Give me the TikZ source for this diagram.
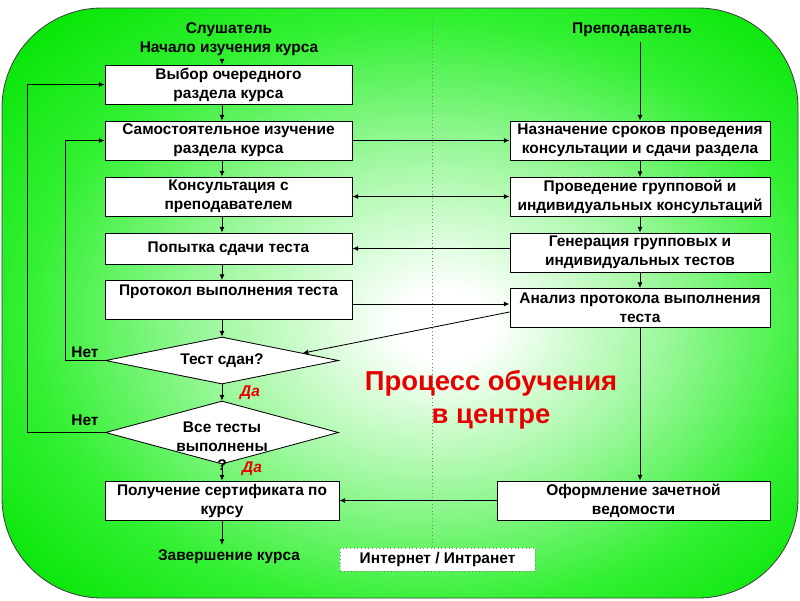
\documentclass[tikz,border=0pt]{standalone}
\usepackage{fontspec}
\setmainfont{Liberation Sans}
\usetikzlibrary{shapes.geometric,arrows.meta,calc}
\definecolor{bggreen}{RGB}{0,228,0}
\definecolor{midgreen}{RGB}{50,240,50}
\definecolor{palegreen}{RGB}{160,248,160}
\definecolor{titlered}{RGB}{230,0,0}
\pgfdeclareradialshading{bgshade}{\pgfpoint{3bp}{-2bp}}{color(0bp)=(white); color(3bp)=(white); color(14bp)=(palegreen); color(25bp)=(midgreen); color(35bp)=(bggreen); color(50bp)=(bggreen)}

\begin{document}
\begin{tikzpicture}[x=0.025cm, y=-0.025cm, line width=0.6pt,
    >={Latex[length=4pt,width=3.5pt]},
    txt/.style={font=\bfseries\fontsize{11}{13.5}\selectfont, align=center},
    box/.style={txt, draw, fill=white, inner sep=1pt},
    lbox/.style={box, minimum width=6.175cm, minimum height=0.975cm},
    rbox/.style={box, minimum width=6.5cm, minimum height=0.975cm},
    decision/.style={diamond, draw, fill=white, inner sep=0pt, minimum width=5.825cm},
    yes/.style={font=\bfseries\itshape\fontsize{11}{13}\selectfont, text=titlered}]

    % Background
    \useasboundingbox (0,0) rectangle (800,600);
    \shade[shading=bgshade, rounded corners=2.5cm] (2,8) rectangle (798,598);
    \draw[black!75, rounded corners=2.5cm] (2,8) rectangle (798,598);
    \draw[gray, dotted, line width=0.5pt] (432,22) -- (432,548);

    % Student column
    \node[txt] (student) at (229,39) {Слушатель\\Начало изучения курса};
    \coordinate (lx) at (222,0);
    \node[lbox] (b1) at (228.5,84.5) {Выбор очередного\\раздела курса};
    \node[lbox] (b2) at (228.5,140.5) {Самостоятельное изучение\\раздела курса};
    \node[lbox] (b3) at (228.5,196.5) {Консультация с\\преподавателем};
    \node[lbox, minimum height=0.775cm] (b4) at (228.5,248.5) {Попытка сдачи теста};
    \node[lbox] (b5) at (228.5,300) {Протокол выполнения теста\\ \mbox{}};
    \node[decision, minimum height=1.175cm] (d1) at (222,360.5) {};
    \node[txt] (d1t) at (222,361) {Тест сдан?};
    \node[decision, minimum height=1.575cm] (d2) at (222,432.5) {};
    \node[txt] (d2t) at (222,446) {Все тесты\\выполнены\\?};
    \node[box, minimum width=5.85cm, minimum height=0.975cm] (b6) at (222,500.5) {Получение сертификата по\\курсу};
    \node[txt] (finish) at (229,557) {Завершение курса};
    \node[txt] (no1) at (85,352) {Нет};
    \node[txt] (no2) at (85,420) {Нет};
    \node[yes] (yes1) at (250,393) {Да};
    \node[yes] (yes2) at (252,469) {Да};

    % Teacher column
    \node[txt] (teacher) at (632,30) {Преподаватель};
    \node[rbox] (r1) at (640,140.5) {Назначение сроков проведения\\консультации и сдачи раздела};
    \node[rbox] (r2) at (640,197) {Проведение групповой и\\индивидуальных консультаций};
    \node[rbox] (r3) at (640,252.5) {Генерация групповых и\\индивидуальных тестов};
    \node[rbox] (r4) at (640,308) {Анализ протокола выполнения\\теста};
    \node[box, minimum width=6.825cm, minimum height=0.975cm] (r5) at (633.5,500.5) {Оформление зачетной\\ведомости};

    % Title and footer
    \node[font=\bfseries\fontsize{19.5}{23.5}\selectfont, text=titlered, align=center] (title) at (491,400) {Процесс обучения\\в центре};
    \node[txt, draw=gray, dotted, fill=white, minimum width=4.875cm, minimum height=0.575cm, inner sep=1pt] (inet) at (437.5,559.5) {Интернет / Интранет};

    % Arrows
    \draw[->] (student.south -| lx) -- (b1.north -| lx);
    \foreach \a/\b in {b1/b2, b2/b3, b3/b4, b4/b5, b5/d1, d1/d2, d2/b6, b6/finish}
        \draw[->] (\a.south -| lx) -- (\b.north -| lx);
    \draw[->] (teacher.south -| r1) -- (r1.north);
    \foreach \a/\b in {r1/r2, r2/r3, r3/r4, r4/r5}
        \draw[->] (\a.south) -- (\a.south |- \b.north);
    \draw[->] (b2.east) -- (r1.west);
    \draw[<->] (b3.east) -- (b3.east -| r2.west);
    \draw[->] (r3.west |- b4.east) -- (b4.east);
    \draw[->] ([yshift=-0.1cm]b5.east) -- ([yshift=-0.1cm]b5.east -| r4.west);
    \draw[->] ([yshift=-0.1cm]r4.west) -- ($(d1.east)!0.31!(d1.north)$);
    \draw[->] (r5.west) -- (b6.east);
    \draw[->] (d1.west) -- ++(-40,0) |- (b2.west);
    \draw[->] (d2.west) -- ++(-78,0) |- (b1.west);
\end{tikzpicture}
\end{document}
